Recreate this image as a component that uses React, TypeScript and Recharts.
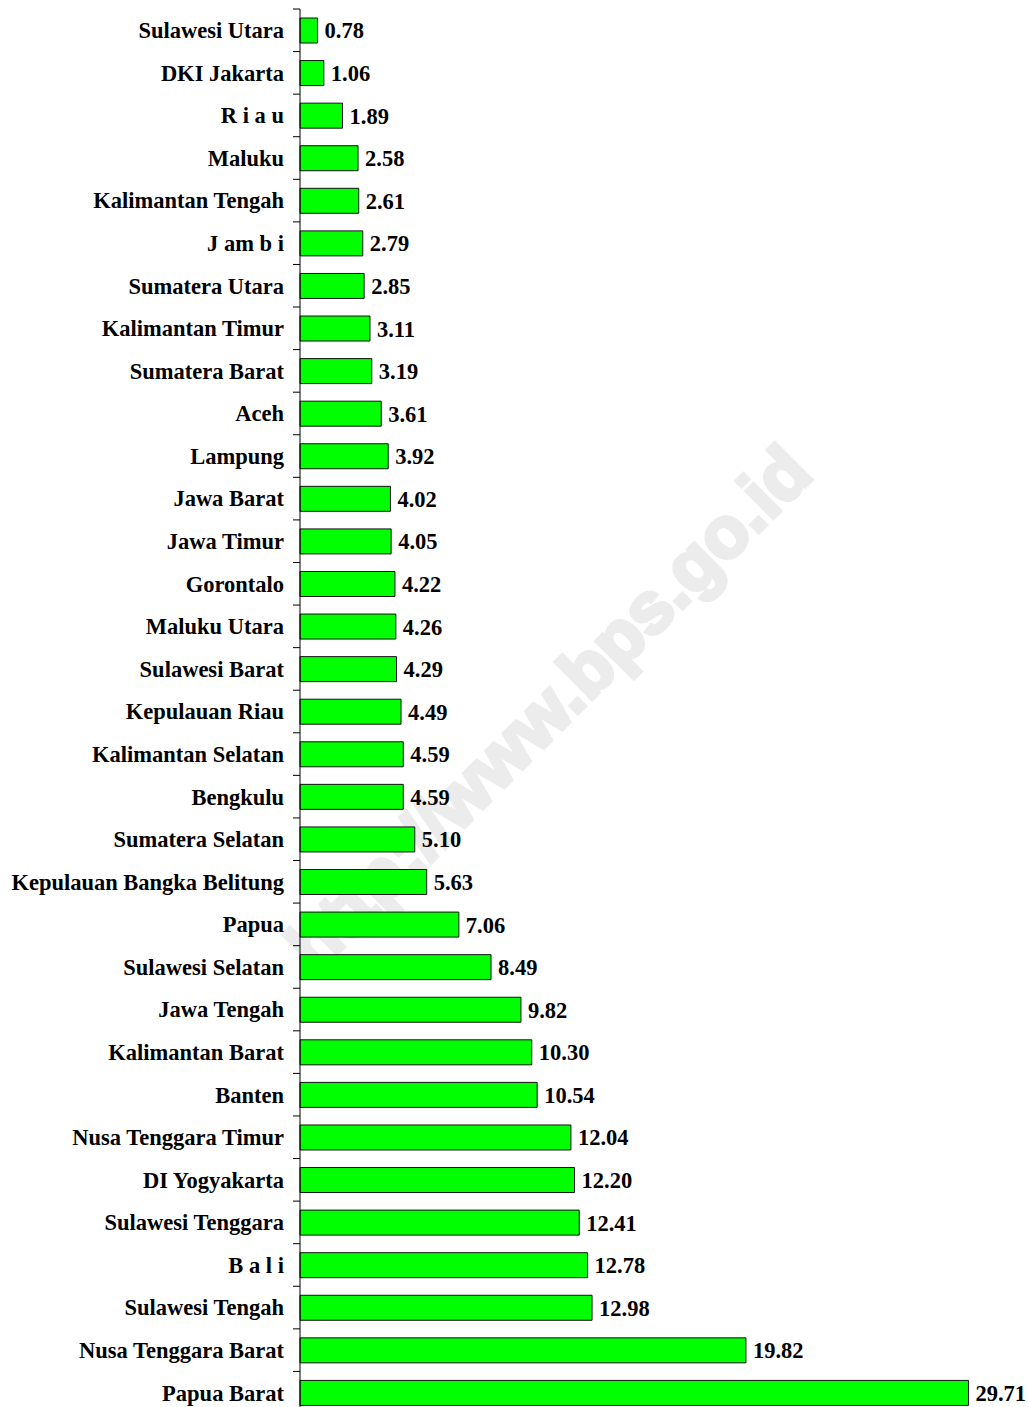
import React from 'react'
import { BarChart, Bar, XAxis, YAxis, LabelList } from 'recharts'

const provinces = [
  'Sulawesi Utara',
  'DKI Jakarta',
  'R i a u',
  'Maluku',
  'Kalimantan Tengah',
  'J am b i',
  'Sumatera Utara',
  'Kalimantan Timur',
  'Sumatera Barat',
  'Aceh',
  'Lampung',
  'Jawa Barat',
  'Jawa Timur',
  'Gorontalo',
  'Maluku Utara',
  'Sulawesi Barat',
  'Kepulauan Riau',
  'Kalimantan Selatan',
  'Bengkulu',
  'Sumatera Selatan',
  'Kepulauan Bangka Belitung',
  'Papua',
  'Sulawesi Selatan',
  'Jawa Tengah',
  'Kalimantan Barat',
  'Banten',
  'Nusa Tenggara Timur',
  'DI Yogyakarta',
  'Sulawesi Tenggara',
  'B a l i',
  'Sulawesi Tengah',
  'Nusa Tenggara Barat',
  'Papua Barat',
]

const values = [
  0.78, 1.06, 1.89, 2.58, 2.61, 2.79, 2.85, 3.11, 3.19, 3.61, 3.92, 4.02, 4.05, 4.22, 4.26, 4.29,
  4.49, 4.59, 4.59, 5.1, 5.63, 7.06, 8.49, 9.82, 10.3, 10.54, 12.04, 12.2, 12.41, 12.78, 12.98,
  19.82, 29.71,
]

const xDomain = [0, 30]

const FONT = '"Liberation Serif", "Times New Roman", serif'
const FONT_SIZE = 22.5
const WIDTH = 1028
const HEIGHT = 1420
const MARGIN = { top: 9, right: 53, bottom: 6, left: 0 }
const BAND = (HEIGHT - MARGIN.top - MARGIN.bottom) / provinces.length

const data = provinces.map((name, i) => ({ name, value: values[i] }))

function ProvinceTick(props: any) {
  const { x, y, payload } = props
  return (
    <g>
      <line x1={x + 9} x2={x + 16} y1={y - BAND / 2} y2={y - BAND / 2} stroke="#000" strokeWidth={1} />
      <text
        x={x}
        y={y}
        dy="0.35em"
        textAnchor="end"
        fontFamily={FONT}
        fontWeight="bold"
        fontSize={FONT_SIZE}
        fill="#000"
        style={{ whiteSpace: 'pre' }}
      >
        {payload.value}
      </text>
    </g>
  )
}

export default function App() {
  return (
    <div style={{ position: 'absolute', left: 0, top: 0, width: WIDTH, height: HEIGHT, background: '#fff' }}>
      {/* watermark sits behind the chart svg */}
      <div
        style={{
          position: 'absolute',
          left: 548,
          top: 708,
          transform: 'translate(-50%, -50%) rotate(-45deg)',
          whiteSpace: 'nowrap',
          fontFamily: '"Liberation Sans", Arial, sans-serif',
          fontWeight: 'bold',
          fontSize: 72,
          color: '#ececec',
          WebkitTextStroke: '4px #ececec',
        }}
      >
        http://www.bps.go.id
      </div>
      <div style={{ position: 'absolute', left: 0, top: 0 }}>
        <BarChart width={WIDTH} height={HEIGHT} data={data} layout="vertical" margin={MARGIN}>
          <XAxis type="number" domain={xDomain} hide />
          <YAxis
            type="category"
            dataKey="name"
            width={300}
            interval={0}
            tickSize={7}
            tickMargin={9}
            tickLine={false}
            axisLine={{ stroke: '#000', strokeWidth: 1 }}
            tick={<ProvinceTick />}
          />
          <Bar dataKey="value" fill="#00ff00" stroke="#111" strokeWidth={1} barSize={25} isAnimationActive={false}>
            <LabelList
              dataKey="value"
              position="right"
              offset={7}
              formatter={(v: any) => Number(v).toFixed(2)}
              style={{ fontFamily: FONT, fontWeight: 'bold', fontSize: FONT_SIZE, fill: '#000' }}
            />
          </Bar>
        </BarChart>
      </div>
    </div>
  )
}
